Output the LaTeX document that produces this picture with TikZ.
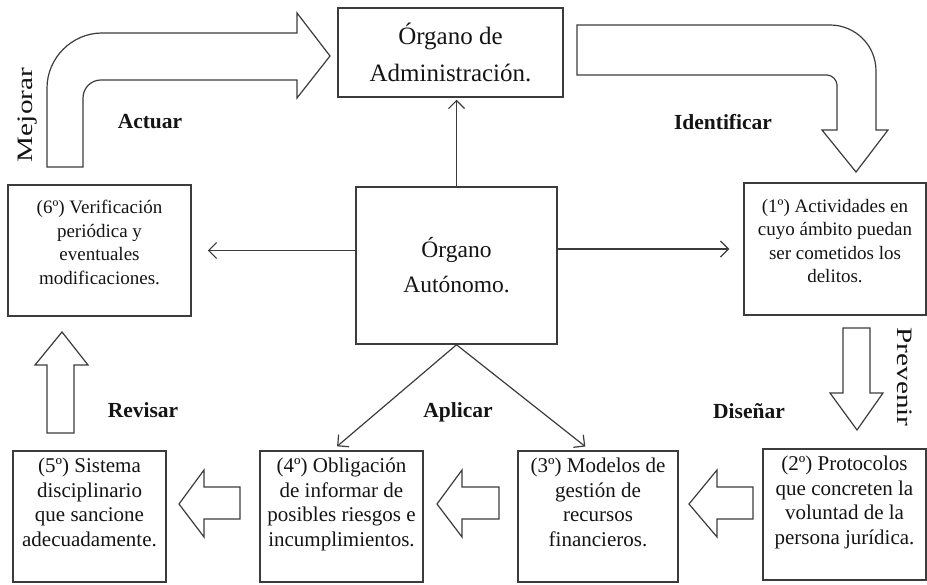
\documentclass[tikz,border=0pt]{standalone}
\usepackage{fontspec}
\setmainfont{Liberation Serif}
\usetikzlibrary{arrows.meta, positioning}
\definecolor{boxgray}{HTML}{3C3C3C}
\definecolor{textgray}{HTML}{141414}

\begin{document}
\begin{tikzpicture}[
    x=1pt, y=-1pt,
    module/.style={draw=boxgray, line width=1.5pt, align=center, inner sep=2pt, text=textgray},
    headbox/.style={module, font=\fontsize{25}{37}\selectfont},
    stepbox/.style={module, font=\fontsize{19}{23.5}\selectfont, text depth=16pt},
    lowbox/.style={module, font=\fontsize{21}{24.5}\selectfont, text depth=29pt},
    phase/.style={font=\fontsize{21.5}{24}\selectfont\bfseries, text=textgray},
    sidephase/.style={font=\fontsize{22}{24}\selectfont, text=textgray},
    arrow/.style={-{Straight Barb[length=8pt, width=16pt]}, line width=1.2pt, draw=boxgray},
    blockarrow/.style={draw=boxgray, line width=1.2pt, fill=white, line join=miter},
]
    \useasboundingbox (0,0) rectangle (927,585);

    % Organs
    \node[headbox, minimum width=225, minimum height=89] (adm) at (450.5,52.5) {Órgano de\\Administración.};
    \node[module, font=\fontsize{23.5}{35}\selectfont, minimum width=201, minimum height=157] (auto) at (456.5,265.5) {Órgano\\Autónomo.};

    % Steps
    \node[stepbox, minimum width=183, minimum height=131] (verif) at (99.5,250.5) {(6º) Verificación\\periódica y\\eventuales\\modificaciones.};
    \node[stepbox, minimum width=182, minimum height=132] (activ) at (835,249) {(1º) Actividades en\\cuyo ámbito puedan\\ser cometidos los\\delitos.};
    \node[lowbox, minimum width=153, minimum height=131] (sanc) at (89.5,516.5) {(5º) Sistema\\disciplinario\\que sancione\\adecuadamente.};
    \node[lowbox, minimum width=163, minimum height=131] (oblig) at (341.5,516.5) {(4º) Obligación\\de informar de\\posibles riesgos e\\incumplimientos.};
    \node[lowbox, minimum width=160, minimum height=131] (model) at (598,516.5) {(3º) Modelos de\\gestión de\\recursos\\financieros.};
    \node[lowbox, minimum width=163, minimum height=131] (proto) at (844.5,514.5) {(2º) Protocolos\\que concreten la\\voluntad de la\\persona jurídica.};

    % Phase labels
    \node[phase] (actuar) at (150,122) {Actuar};
    \node[phase] (identificar) at (723,122) {Identificar};
    \node[phase] (revisar) at (143,410) {Revisar};
    \node[phase] (aplicar) at (458,412) {Aplicar};
    \node[phase] (disenar) at (749,411) {Diseñar};
    \node[sidephase, rotate=90] (mejorar) at (28,115) {\scalebox{1.33}[1]{Mejorar}};
    \node[sidephase, rotate=-90] (prevenir) at (905,377) {\scalebox{1.33}[1]{Prevenir}};

    % Thin connectors from the autonomous organ
    \draw[arrow, shorten >=2pt] (auto.north) -- (auto.north |- adm.south);
    \draw[arrow, shorten >=16pt] (auto.west |- verif.east) -- (verif.east);
    \draw[arrow, shorten >=14pt] (auto.east |- activ.west) -- (activ.west);
    \draw[arrow, shorten >=6pt] (auto.south) -- ([xshift=-9pt]oblig.north);
    \draw[arrow, shorten >=6pt] (auto.south) -- ([xshift=-8pt]model.north);

    % Curved block arrows (top)
    \draw[blockarrow] (47,167) -- (47,88) .. controls (47,58) and (72,33) .. (102,33) -- (297,33) -- (297,13) -- (330,56)
        -- (297,98) -- (297,80) -- (101,80) .. controls (91,80) and (83,88) .. (83,98) -- (83,167) -- cycle;
    \draw[blockarrow] (577,25) -- (830,25) .. controls (855,25) and (876,45) .. (876,71) -- (876,130) -- (888,130)
        -- (856,172) -- (822,130) -- (837,130) -- (837,85) .. controls (837,80) and (832,75) .. (827,75) -- (577,75) -- cycle;

    % Straight block arrows
    \draw[blockarrow] (47,433) -- (47,365) -- (35,365) -- (62,332) -- (88,365) -- (74,365) -- (74,433) -- cycle;
    \draw[blockarrow] (843,328) -- (870,328) -- (870,393) -- (883,393) -- (857,430) -- (830,393) -- (843,393) -- cycle;
    \foreach \tip/\head/\tail in {179/204/240, 437/462/499, 689/717/753}
        \draw[blockarrow] (\tail,487) -- (\head,487) -- (\head,470) -- (\tip,504) -- (\head,537) -- (\head,519) -- (\tail,519) -- cycle;

\end{tikzpicture}
\end{document}
